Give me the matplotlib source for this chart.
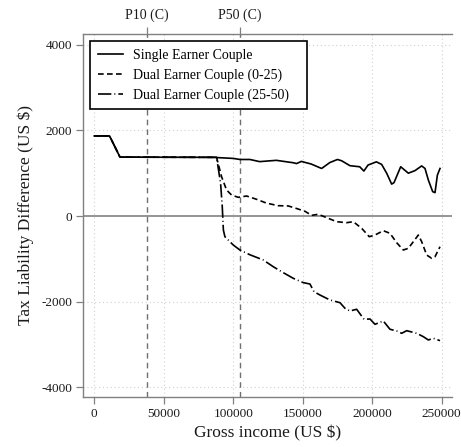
import matplotlib
matplotlib.use("Agg")
import matplotlib.pyplot as plt

plt.rcParams['font.family'] = ['Liberation Serif', 'DejaVu Serif']

# Common start of all series
base_x = [0, 11000, 18500, 87000]
base_y = [1870, 1870, 1375, 1370]

single_x = base_x + [88000, 100000, 104800, 112000, 119000, 131000, 143000, 145600, 149000,
                     156000, 163600, 169600, 175000, 178000, 184000, 191000, 194000, 197000,
                     203000, 206800, 210400, 214000, 215700, 220500, 226000, 230800, 235600,
                     238000, 240400, 243500, 245200, 246900, 248800]
single_y = base_y + [1365, 1345, 1320, 1320, 1270, 1300, 1245, 1225, 1275,
                     1215, 1110, 1250, 1320, 1290, 1175, 1150, 1050, 1190,
                     1265, 1205, 1000, 745, 780, 1150, 1000, 1060, 1170,
                     1110, 840, 570, 545, 955, 1110]

dual025_x = base_x + [88000, 91600, 95200, 98800, 103600, 109600, 116800, 124000, 132400,
                      139600, 145600, 151600, 156400, 161200, 168400, 174400, 181600, 186400,
                      192400, 197900, 202000, 208000, 212800, 217600, 222400, 226000, 229600,
                      233200, 235600, 239200, 242800, 245200, 248800]
dual025_y = base_y + [1370, 918, 607, 490, 436, 467, 390, 300, 241,
                      235, 175, 110, 15, 40, -54, -133, -156, -133,
                      -287, -483, -444, -343, -404, -623, -794, -754, -600,
                      -444, -600, -911, -988, -950, -717]

dual2550_x = base_x + [88000, 90900, 92100, 92900, 94000, 100000, 104800, 112000, 121600,
                       128800, 136000, 143200, 150400, 155200, 158100, 162400, 169600, 176800,
                       180400, 184000, 188800, 194100, 198400, 202000, 208000, 212800, 217600,
                       221200, 224800, 232000, 236800, 240400, 244000, 248800]
dual2550_y = base_y + [1370, 763, 217, -327, -483, -677, -794, -905, -1027,
                       -1184, -1323, -1455, -1556, -1588, -1767, -1845, -1961, -2024,
                       -2155, -2218, -2178, -2412, -2405, -2529, -2452, -2645, -2685,
                       -2739, -2678, -2739, -2818, -2895, -2856, -2911]

percentile_x = [37700, 104850]
percentile_labels = ['P10 (C)', 'P50 (C)']

xticks = [0, 50000, 100000, 150000, 200000, 250000]
yticks = [-4000, -2000, 0, 2000, 4000]

fig = plt.figure(figsize=(4.61, 4.47), dpi=100)
ax = fig.add_axes([0.1807, 0.1125, 0.7991, 0.8114])

spine_col = '#808080'
# grid
for xv in xticks:
    ax.axvline(xv, color='#d0d0d0', lw=0.8, ls=(0, (1, 2.5)), zorder=0)
for yv in yticks:
    if yv != 0:
        ax.axhline(yv, color='#d0d0d0', lw=0.8, ls=(0, (1, 2.5)), zorder=0)
ax.axhline(0, color='#8c8c8c', lw=1.3, zorder=1)
for px in percentile_x:
    ax.axvline(px, color='#707070', lw=1.0, ls=(0, (4, 3)), zorder=1)

ax.plot(single_x, single_y, color='black', lw=1.2, ls='-', label='Single Earner Couple', zorder=3)
ax.plot(dual025_x, dual025_y, color='black', lw=1.2, ls=(0, (3.4, 2.0)), label='Dual Earner Couple (0-25)', zorder=3)
ax.plot(dual2550_x, dual2550_y, color='black', lw=1.2, ls=(0, (8, 1.8, 0.6, 1.8)), label='Dual Earner Couple (25-50)', zorder=3)

ax.set_xlim(-7900, 257200)
ax.set_ylim(-4220, 4250)
ax.set_xticks(xticks)
ax.set_xticklabels([str(v) for v in xticks])
ax.set_yticks(yticks)
ax.set_yticklabels([str(v) for v in yticks])

for s in ['left', 'bottom', 'top']:
    ax.spines[s].set_color(spine_col)
    ax.spines[s].set_linewidth(1.0)
ax.spines['right'].set_visible(False)
ax.tick_params(axis='both', colors=spine_col, labelcolor='#1a1a1a', labelsize=9.5,
               length=5, width=0.9, direction='out', pad=3)

ax2 = ax.secondary_xaxis('top')
ax2.set_xticks(percentile_x)
ax2.set_xticklabels(percentile_labels)
ax2.tick_params(colors=spine_col, labelcolor='#1a1a1a', labelsize=10, length=5, width=0.9)
ax2.spines['top'].set_visible(False)

ax.set_xlabel('Gross income (US $)', fontsize=12.5, color='#1a1a1a', labelpad=4)
ax.set_ylabel('Tax Liability Difference (US $)', fontsize=12.5, color='#1a1a1a', labelpad=5)

leg = ax.legend(loc='upper left', bbox_to_anchor=(0.018, 0.981, 0.589, 0.0), mode='expand',
                borderaxespad=0, fontsize=10, frameon=True,
                fancybox=False, edgecolor='black', framealpha=1, handlelength=1.8,
                borderpad=0.55, labelspacing=0.48, handletextpad=0.75)
leg.get_frame().set_linewidth(1.2)

fig.savefig('out.png', dpi=100)
